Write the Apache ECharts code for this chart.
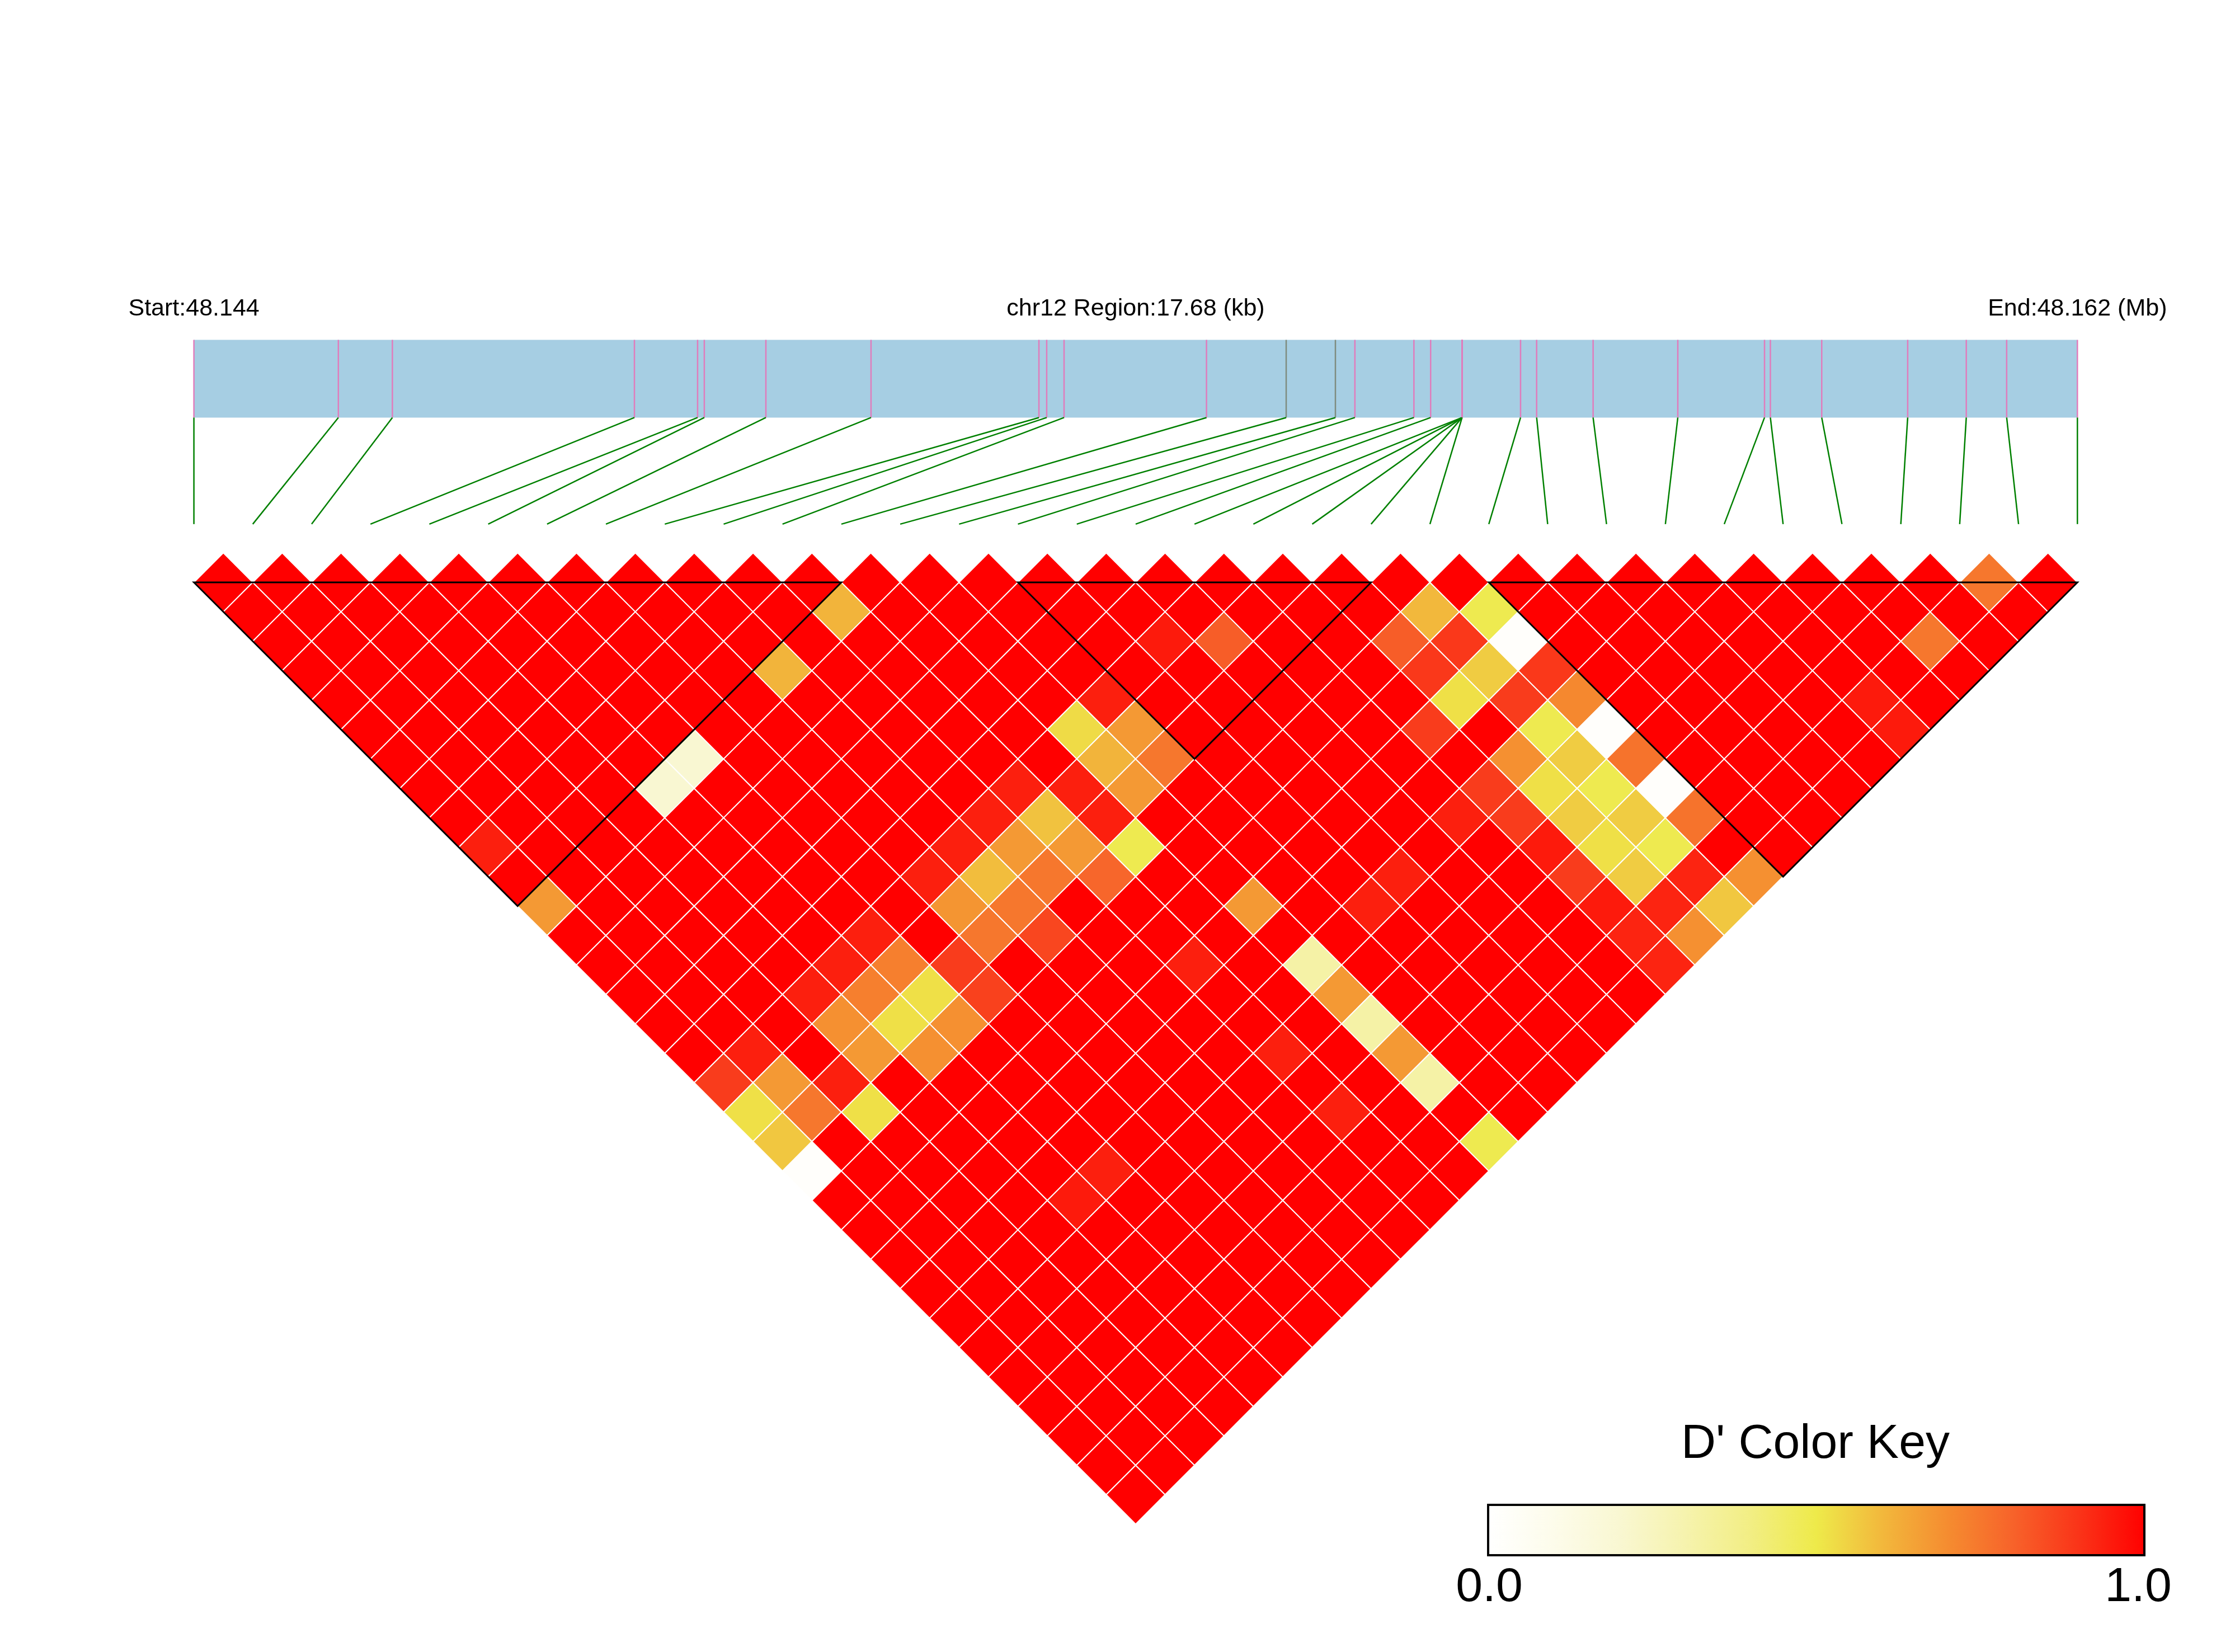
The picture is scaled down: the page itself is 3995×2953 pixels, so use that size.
<!DOCTYPE html>
<html>
<head>
<meta charset="utf-8">
<title>LD heatmap chr12</title>
<script src="https://cdn.jsdelivr.net/npm/echarts@6/dist/echarts.min.js"></script>
<style>
  html, body { margin: 0; padding: 0; background: #fff; }
  #chart { width: 3995px; height: 2953px; }
</style>
</head>
<body>
<div id="chart"></div>
<script>
// region shown in the track
const chrName = 'chr12';
const regionStartMb = 48.144;
const regionEndMb = 48.162;
const regionKb = 17.68;

// SNP positions, kb from region start
const snpPosKb = [0, 1.356, 1.863, 4.135, 4.728, 4.791, 5.369, 6.356, 7.932, 8.005, 8.168,
  9.505, 10.253, 10.715, 10.898, 11.452, 11.609, 11.904, 11.904, 11.904, 11.904, 11.904,
  12.453, 12.604, 13.134, 13.929, 14.743, 14.798, 15.280, 16.087, 16.637, 17.016, 17.68]
// SNPs drawn with a grey tick in the track
const greySnps = [12, 13]

// LD blocks: first and last SNP index
const ldBlocks = [[0, 11], [14, 20], [22, 32]]

// pairs whose D' is below 1 : [snpA, snpB, D'] (all other pairs read as 1.0)
const dPrimeLow = [
  [0, 10, 0.94], [0, 12, 0.67], [4, 12, 0.2], [5, 12, 0.2], [8, 12, 0.61], [10, 12, 0.61],
  [0, 18, 0.88], [0, 19, 0.52], [0, 20, 0.57], [0, 21, 0.02],
  [1, 18, 0.94], [1, 19, 0.67], [1, 20, 0.75],
  [2, 20, 0.94], [2, 21, 0.52],
  [3, 18, 0.94], [3, 19, 0.69], [3, 20, 0.67],
  [4, 18, 0.94], [4, 19, 0.73], [4, 20, 0.52], [4, 21, 0.69], [4, 26, 0.95],
  [5, 18, 0.94], [5, 19, 0.73], [5, 20, 0.52], [5, 21, 0.69], [5, 26, 0.94],
  [6, 20, 0.88], [6, 21, 0.87],
  [7, 18, 0.94], [7, 19, 0.68], [7, 20, 0.75],
  [8, 18, 0.94], [8, 19, 0.59], [8, 20, 0.75], [8, 21, 0.86],
  [9, 18, 0.94], [9, 19, 0.67], [9, 20, 0.75],
  [10, 18, 0.94], [10, 19, 0.58], [10, 20, 0.67], [10, 21, 0.79],
  [10, 24, 0.94], [10, 27, 0.94], [10, 29, 0.94],
  [11, 19, 0.94], [11, 20, 0.94], [11, 21, 0.49],
  [12, 18, 0.53], [12, 19, 0.61], [12, 20, 0.67], [12, 24, 0.67],
  [12, 26, 0.32], [12, 27, 0.67], [12, 28, 0.32], [12, 29, 0.67], [12, 30, 0.32], [12, 32, 0.49],
  [13, 18, 0.94], [13, 19, 0.67], [13, 20, 0.75],
  [14, 26, 0.94], [15, 18, 0.95], [15, 26, 0.94], [16, 19, 0.81], [17, 26, 0.94],
  [18, 24, 0.88], [18, 26, 0.88], [18, 27, 0.88], [18, 28, 0.95], [18, 29, 0.88],
  [18, 30, 0.95], [18, 31, 0.93], [18, 32, 0.93],
  [19, 22, 0.81], [19, 23, 0.89], [19, 24, 0.52], [19, 26, 0.69], [19, 27, 0.52],
  [19, 28, 0.56], [19, 29, 0.52], [19, 30, 0.56], [19, 31, 0.93], [19, 32, 0.69],
  [20, 22, 0.6], [20, 23, 0.89], [20, 24, 0.56], [20, 25, 0.88], [20, 26, 0.49],
  [20, 27, 0.56], [20, 28, 0.49], [20, 29, 0.56], [20, 30, 0.49], [20, 31, 0.93], [20, 32, 0.57],
  [21, 23, 0.49], [21, 24, 0.02], [21, 25, 0.89], [21, 26, 0.71], [21, 27, 0.02],
  [21, 28, 0.76], [21, 29, 0.02], [21, 30, 0.76], [21, 32, 0.69],
  [26, 31, 0.95], [26, 32, 0.95], [28, 31, 0.75], [30, 31, 0.75]
]

// colour key
const keyColors = ['#FFFFFF', '#FDFCEB', '#F9F7D2', '#F6F3AE', '#F2EE84', '#EEEA4A',
  '#F2B83C', '#F58C30', '#F7622A', '#FA3318', '#FF0000']
const keyLabels = ['0.0', '1.0']

const FONT = '"Liberation Sans", Arial, Helvetica, sans-serif'
const nSnp = snpPosKb.length
// vertical layout of the track, in the same units as the heatmap
const LABEL_Y = -4.15
const TRACK_TOP = -3.62
const TRACK_BOTTOM = -2.3
const LINK_END = -0.49

const kbToX = kb => kb / regionKb * (nSnp - 1)

// all pairs, rotated: x = (i+j)/2, y = (j-i)/2
const lowMap = {}
dPrimeLow.forEach(([a, b, v]) => { lowMap[a + '-' + b] = v })
const cells = []
for (let i = 0; i < nSnp; i++) {
  for (let j = i + 1; j < nSnp; j++) {
    const v = lowMap[i + '-' + j] !== undefined ? lowMap[i + '-' + j] : 1
    cells.push([(i + j) / 2, (j - i) / 2, v, i, j])
  }
}

const snpTicks = snpPosKb.map((kb, k) => [kbToX(kb), k, greySnps.includes(k) ? 1 : 0])
const trackLabels = [
  [0, 'Start:' + regionStartMb.toFixed(3)],
  [(nSnp - 1) / 2, chrName + ' Region:' + regionKb.toFixed(2) + ' (kb)'],
  [nSnp - 1, 'End:' + regionEndMb.toFixed(3) + ' (Mb)']
]

const chart = echarts.init(document.getElementById('chart'))

chart.setOption({
  animation: false,
  backgroundColor: '#fff',
  grid: { left: 346.6, right: 281.7, top: 514.96, bottom: 228.6 },
  xAxis: { type: 'value', min: 0, max: nSnp - 1, show: false },
  yAxis: { type: 'value', min: -4.5, max: 16.5, inverse: true, show: false },
  visualMap: {
    show: false,
    type: 'continuous',
    min: 0,
    max: 1,
    dimension: 2,
    seriesIndex: 0,
    inRange: { color: keyColors }
  },
  series: [
    {
      name: 'LD',
      type: 'custom',
      data: cells,
      encode: { x: 0, y: 1 },
      renderItem(params, api) {
        const x = api.value(0)
        const y = api.value(1)
        const pts = [[x - 0.5, y], [x, y - 0.5], [x + 0.5, y], [x, y + 0.5]].map(p => api.coord(p))
        return {
          type: 'polygon',
          shape: { points: pts },
          style: { fill: api.visual('color'), stroke: '#fff', lineWidth: 2 }
        }
      }
    },
    {
      name: 'blocks',
      type: 'custom',
      data: ldBlocks,
      z: 5,
      renderItem(params, api) {
        const a = api.value(0)
        const b = api.value(1)
        const pts = [[a, 0.5], [(a + b) / 2, (b - a) / 2 + 0.5], [b, 0.5]].map(p => api.coord(p))
        return {
          type: 'polygon',
          shape: { points: pts },
          style: { fill: null, stroke: '#000', lineWidth: 3 }
        }
      }
    },
    {
      name: 'track',
      type: 'custom',
      data: [[0, nSnp - 1]],
      renderItem(params, api) {
        const p0 = api.coord([api.value(0), TRACK_TOP])
        const p1 = api.coord([api.value(1), TRACK_BOTTOM])
        return {
          type: 'rect',
          shape: { x: p0[0], y: p0[1], width: p1[0] - p0[0], height: p1[1] - p0[1] },
          style: { fill: '#A6CEE3' }
        }
      }
    },
    {
      name: 'snps',
      type: 'custom',
      data: snpTicks,
      z: 3,
      renderItem(params, api) {
        const x = api.value(0)
        const k = api.value(1)
        const t0 = api.coord([x, TRACK_TOP])
        const t1 = api.coord([x, TRACK_BOTTOM])
        const e = api.coord([k, LINK_END])
        return {
          type: 'group',
          children: [
            {
              type: 'line',
              shape: { x1: t0[0], y1: t0[1], x2: t1[0], y2: t1[1] },
              style: { stroke: api.value(2) ? '#7F8C7F' : '#E07CBC', lineWidth: 2.5 }
            },
            {
              type: 'line',
              shape: { x1: t1[0], y1: t1[1], x2: e[0], y2: e[1] },
              style: { stroke: '#008000', lineWidth: 2.5 }
            }
          ]
        }
      }
    },
    {
      name: 'labels',
      type: 'custom',
      data: trackLabels,
      renderItem(params, api) {
        const p = api.coord([api.value(0), LABEL_Y])
        return {
          type: 'text',
          x: p[0],
          y: p[1],
          style: {
            text: trackLabels[params.dataIndex][1],
            font: '43px ' + FONT,
            fill: '#000',
            align: 'center',
            verticalAlign: 'middle'
          }
        }
      }
    }
  ],
  graphic: [
    {
      type: 'text',
      x: 3245,
      y: 2582,
      style: { text: "D' Color Key", font: '86px ' + FONT, fill: '#000', align: 'center', verticalAlign: 'middle' }
    },
    {
      type: 'rect',
      shape: { x: 2660, y: 2690, width: 1173, height: 90 },
      style: {
        fill: new echarts.graphic.LinearGradient(0, 0, 1, 0,
          keyColors.map((c, i) => ({ offset: i / (keyColors.length - 1), color: c }))),
        stroke: '#000',
        lineWidth: 4
      }
    },
    {
      type: 'text',
      x: 2662,
      y: 2838,
      style: { text: keyLabels[0], font: '86px ' + FONT, fill: '#000', align: 'center', verticalAlign: 'middle' }
    },
    {
      type: 'text',
      x: 3822,
      y: 2838,
      style: { text: keyLabels[1], font: '86px ' + FONT, fill: '#000', align: 'center', verticalAlign: 'middle' }
    }
  ]
})
</script>
</body>
</html>
